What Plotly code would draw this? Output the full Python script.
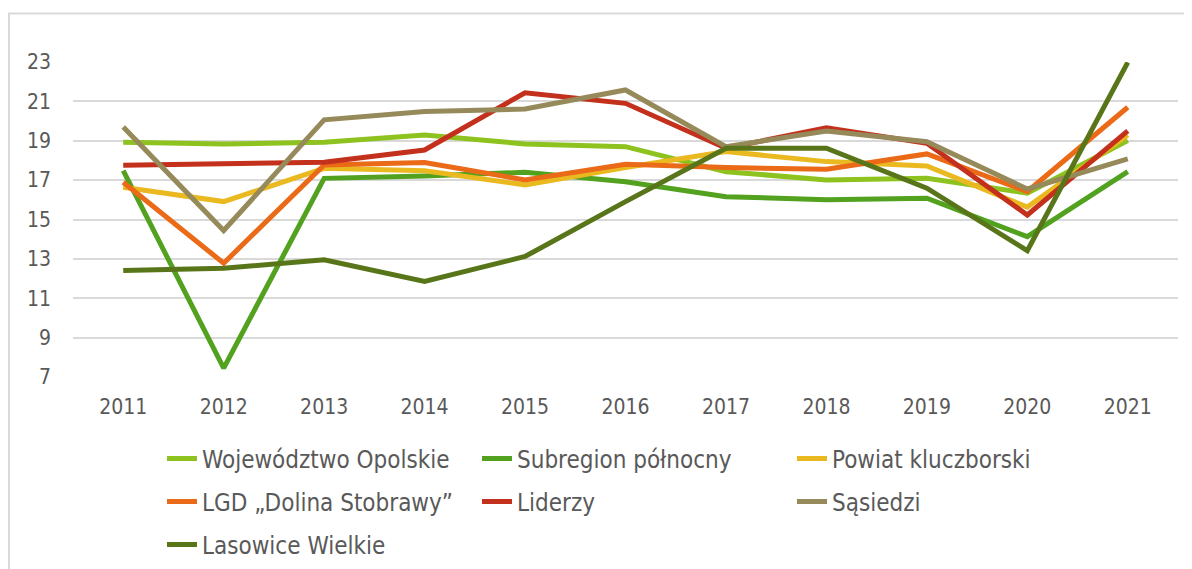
import plotly.graph_objects as go

years = ["2011", "2012", "2013", "2014", "2015", "2016", "2017", "2018", "2019", "2020", "2021"]

wojewodztwo = [18.92, 18.84, 18.92, 19.29, 18.84, 18.70, 17.43, 17.01, 17.10, 16.34, 19.01]
subregion = [17.48, 7.45, 17.09, 17.21, 17.40, 16.92, 16.16, 16.00, 16.08, 14.13, 17.43]
powiat = [16.64, 15.91, 17.60, 17.47, 16.76, 17.64, 18.45, 17.94, 17.72, 15.63, 19.29]
lgd = [16.89, 12.78, 17.77, 17.89, 17.01, 17.81, 17.64, 17.55, 18.33, 16.42, 20.70]
liderzy = [17.76, 17.81, 17.91, 18.53, 21.44, 20.90, 18.62, 19.66, 18.87, 15.23, 19.50]
sasiedzi = [19.70, 14.44, 20.06, 20.48, 20.61, 21.58, 18.70, 19.50, 18.95, 16.55, 18.08]
lasowice = [12.41, 12.53, 12.95, 11.85, 13.12, 15.91, 18.62, 18.62, 16.59, 13.42, 22.98]

names = ["Województwo Opolskie", "Subregion północny", "Powiat kluczborski",
         "LGD „Dolina Stobrawy”", "Liderzy", "Sąsiedzi", "Lasowice Wielkie"]
colors = ["#8DC21F", "#52A11F", "#EAB920", "#EA6A17", "#C3301B", "#968A5A", "#587619"]
series = [wojewodztwo, subregion, powiat, lgd, liderzy, sasiedzi, lasowice]
legend_ids = ["legend", "legend", "legend", "legend2", "legend2", "legend2", "legend3"]

FONT = "DejaVu Sans Condensed"
TXT = "#595959"

fig = go.Figure()
for name, col, vals, lg in zip(names, colors, series, legend_ids):
    fig.add_trace(go.Scatter(
        x=years, y=vals, name=name, mode="lines",
        line=dict(color=col, width=5), cliponaxis=False, legend=lg,
    ))

# page is offset by 8px body margin
W, H = 1184, 561
L, R, T, B = 65, 14, 54, 192
pw, ph = W - L - R, H - T - B

def px_x(x):
    return (x - L) / pw

def px_y(y):
    return (H - B - y) / ph

leg_common = dict(orientation="h", xanchor="left", yanchor="middle",
                  font=dict(family=FONT, size=24, color=TXT),
                  entrywidth=270, entrywidthmode="pixels",
                  bgcolor="rgba(0,0,0,0)", traceorder="normal")

fig.update_layout(
    width=W, height=H,
    margin=dict(l=L, r=R, t=T, b=B, autoexpand=False),
    paper_bgcolor="white", plot_bgcolor="white",
    font=dict(family=FONT, size=20, color=TXT),
    showlegend=True,
    legend=dict(x=px_x(154), y=px_y(451), **leg_common),
    legend2=dict(x=px_x(154), y=px_y(494), **leg_common),
    legend3=dict(x=px_x(154), y=px_y(537), **leg_common),
    xaxis=dict(type="category", range=[-0.5, 10.5], showgrid=False, zeroline=False,
               showline=False, ticks="", tickfont=dict(family=FONT, size=21, color=TXT),
               ticklabelstandoff=15),
    yaxis=dict(range=[7, 23], dtick=2, tick0=7, showgrid=True, gridcolor="#D9D9D9",
               gridwidth=1.5, zeroline=False, showline=False, ticks="",
               tickfont=dict(family=FONT, size=21, color=TXT), ticklabelstandoff=21),
    shapes=[
        dict(type="line", xref="paper", yref="paper", x0=px_x(0), x1=1.2,
             y0=px_y(5.5), y1=px_y(5.5), line=dict(color="#D9D9D9", width=2)),
        dict(type="line", xref="paper", yref="paper", x0=px_x(1), x1=px_x(1),
             y0=px_y(5.5), y1=-1.5, line=dict(color="#D9D9D9", width=2)),
    ],
)

fig.write_html("out.html")
